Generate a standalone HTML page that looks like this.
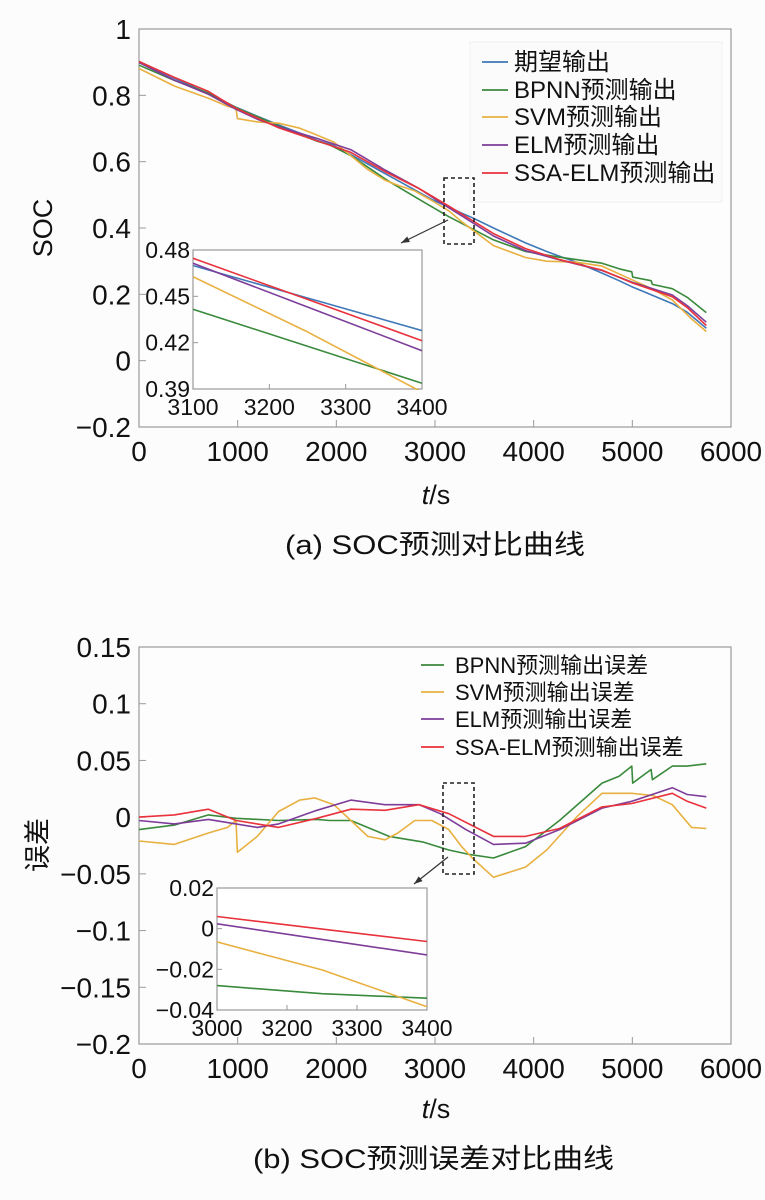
<!DOCTYPE html>
<html><head><meta charset="utf-8">
<style>
html,body{margin:0;padding:0;background:#fcfcfc;}
svg{display:block;font-family:"Liberation Sans","Noto Sans CJK SC",sans-serif;}
</style></head>
<body>
<svg id="root" width="765" height="1200" viewBox="0 0 765 1200">
<rect width="765" height="1200" fill="#fcfcfc"/>
<g id="chartA"></g>
<g id="chartB"></g>
<text x="0" y="0" font-size="27" text-anchor="middle" fill="#111" transform="translate(52,228) rotate(-90)">SOC</text>
<text x="436" y="504" font-size="27" text-anchor="middle" fill="#111"><tspan font-style="italic">t</tspan>/s</text>
<text x="285" y="554" font-size="27" fill="#111" textLength="300" lengthAdjust="spacingAndGlyphs">(a) SOC预测对比曲线</text>
<text x="0" y="0" font-size="27" text-anchor="middle" fill="#111" transform="translate(47,845) rotate(-90)">误差</text>
<text x="436" y="1118" font-size="27" text-anchor="middle" fill="#111"><tspan font-style="italic">t</tspan>/s</text>
<text x="253" y="1168" font-size="27" fill="#111" textLength="361" lengthAdjust="spacingAndGlyphs">(b) SOC预测误差对比曲线</text>
</svg>
<script>
// ---------- Chart (a) data ----------
const xTicksMain = [0,1000,2000,3000,4000,5000,6000];
const yTicksA = [1,0.8,0.6,0.4,0.2,0,-0.2];
const yTickLabelsA = ["1","0.8","0.6","0.4","0.2","0","\u22120.2"];
const expT = [0,358,703,983,1199,1415,1630,1803,1975,2148,2320,2493,2623,2795,2968,3140,3270,3378,3593,3917,4132,4262,4434,4693,4866,4995,5190,5405,5556,5600,5750];
const expV = [.902,.852,.805,.764,.737,.711,.686,.664,.648,.621,.593,.564,.543,.515,.486,.463,.445,.431,.400,.355,.329,.315,.297,.264,.241,.223,.199,.172,.146,.135,.098];
const bpT = [0,358,703,983,1415,1803,1932,2148,2536,2881,3140,3356,3593,3917,4262,4693,4866,4995,5004,5190,5203,5405,5556,5750];
const bpV = [.891,.845,.807,.763,.708,.662,.651,.618,.540,.479,.434,.401,.364,.329,.312,.294,.277,.268,.252,.241,.230,.217,.191,.145];
const svT = [0,358,703,897,983,997,1199,1415,1630,1781,1975,2148,2320,2493,2623,2795,2968,3140,3270,3378,3593,3917,4132,4434,4693,4995,5211,5405,5600,5750];
const svV = [.881,.828,.791,.767,.761,.730,.720,.716,.701,.683,.659,.618,.576,.544,.529,.512,.483,.452,.419,.395,.347,.311,.300,.297,.285,.244,.215,.183,.126,.088];
const elT = [0,358,703,983,1199,1415,1803,2148,2493,2838,3054,3313,3593,3917,4262,4693,4995,5405,5556,5750];
const elV = [.899,.846,.803,.758,.728,.705,.670,.636,.575,.519,.477,.429,.376,.332,.304,.272,.237,.198,.166,.116];
const ssT = [0,358,703,983,1415,1803,2148,2493,2838,3140,3593,3917,4262,4693,4995,5405,5556,5750];
const ssV = [.902,.854,.812,.761,.702,.663,.628,.570,.519,.466,.383,.338,.305,.273,.235,.193,.160,.106];
// inset (a)
const insAxT = [3100,3200,3300,3400];
const insAyT = [0.48,0.45,0.42,0.39];
const insAyLabels = ["0.48","0.45","0.42","0.39"];
const insAT = [3100,3250,3400];
const insAexp = [.4699,.4489,.4278];
const insAbp = [.4416,.4177,.3937];
const insAsv = [.4627,.427,.388];
const insAel = [.4714,.4431,.4148];
const insAss = [.4746,.4480,.4213];
const legendA = ["期望输出","BPNN预测输出","SVM预测输出","ELM预测输出","SSA-ELM预测输出"];

// ---------- Chart (b) data ----------
const yTicksB = [0.15,0.1,0.05,0,-0.05,-0.1,-0.15,-0.2];
const yTickLabelsB = ["0.15","0.1","0.05","0","\u22120.05","\u22120.1","\u22120.15","\u22120.2"];
const ebpT = [0,358,703,983,1415,1803,1932,2148,2536,2881,3140,3356,3593,3917,4262,4693,4866,4995,5004,5190,5203,5405,5556,5750];
const ebpV = [-.011,-.007,.002,-.001,-.003,-.002,-.003,-.003,-.017,-.022,-.029,-.033,-.036,-.026,-.003,.030,.036,.045,.030,.042,.033,.045,.045,.047];
const esvT = [0,358,703,897,983,997,1199,1415,1630,1781,1975,2148,2320,2493,2623,2795,2968,3140,3270,3378,3593,3917,4132,4434,4693,4995,5211,5405,5600,5750];
const esvV = [-.021,-.024,-.014,-.009,-.003,-.031,-.017,.005,.015,.017,.011,-.003,-.017,-.020,-.014,-.003,-.003,-.011,-.026,-.036,-.053,-.044,-.029,0,.021,.021,.019,.011,-.009,-.010];
const eelT = [0,358,703,983,1199,1415,1803,2148,2493,2838,3054,3313,3593,3917,4262,4693,4995,5405,5556,5750];
const eelV = [-.003,-.006,-.002,-.006,-.009,-.006,.006,.015,.011,.011,.003,-.011,-.024,-.023,-.011,.008,.014,.026,.020,.018];
const essT = [0,358,703,983,1415,1803,2148,2493,2838,3140,3593,3917,4262,4693,4995,5405,5556,5750];
const essV = [0,.002,.007,-.003,-.009,-.001,.007,.006,.011,.003,-.017,-.017,-.010,.009,.012,.021,.014,.008];
// inset (b)
const insBxT = [3100,3200,3300,3400];
const insBxLabels = ["3000","3200","3300","3400"];
const insByT = [0.02,0,-0.02,-0.04];
const insByLabels = ["0.02","0","\u22120.02","\u22120.04"];
const insBT = [3100,3250,3400];
const insBbp = [-.028,-.032,-.0342];
const insBsv = [-.0065,-.0203,-.0384];
const insBel = [.0024,-.0053,-.0129];
const insBss = [.006,-.0002,-.0063];
const legendB = ["BPNN预测输出误差","SVM预测输出误差","ELM预测输出误差","SSA-ELM预测输出误差"];

const COL = {exp:"#3f78b8", bp:"#3a8a3c", sv:"#e8b040", el:"#7d3d99", ss:"#e8323c"};
const NS = "http://www.w3.org/2000/svg";

function mk(parent, tag, attrs, text){
  const e = document.createElementNS(NS, tag);
  for (const k in attrs) e.setAttribute(k, attrs[k]);
  if (text !== undefined) e.textContent = text;
  parent.appendChild(e);
  return e;
}
function lin(d0,d1,r0,r1){ return v => r0 + (v-d0)/(d1-d0)*(r1-r0); }
function pathD(ts, vs, sx, sy){
  return ts.map((t,i)=>(i?"L":"M")+sx(t).toFixed(1)+","+sy(vs[i]).toFixed(1)).join("");
}
function series(g, ts, vs, sx, sy, color, name, clip){
  const p = mk(g,"path",{d:pathD(ts,vs,sx,sy),fill:"none",stroke:color,"stroke-width":1.6,"stroke-linejoin":"round"});
  if (clip) p.setAttribute("clip-path", clip);
  
  
  return p;
}

function drawMain(g, cfg){
  const sx = lin(0,6000,139,731);
  const sy = lin(cfg.yMin,cfg.yMax,cfg.bottom,cfg.top);
  const frame = mk(g,"rect",{x:139,y:cfg.top,width:592,height:cfg.bottom-cfg.top,fill:"#fdfdfd",stroke:"#9a9a9a","stroke-width":1.2});
  
  
  xTicksMain.forEach(t=>{
    const tk = mk(g,"line",{x1:sx(t),x2:sx(t),y1:cfg.bottom,y2:cfg.bottom-7,stroke:"#9a9a9a"});
    
    
    const lb = mk(g,"text",{x:sx(t),y:cfg.bottom+34,"font-size":28,"text-anchor":"middle",fill:"#111"},String(t));
    
    
  });
  cfg.yTicks.forEach((v,i)=>{
    const tk = mk(g,"line",{x1:139,x2:146,y1:sy(v),y2:sy(v),stroke:"#9a9a9a"});
    
    
    const lb = mk(g,"text",{x:131,y:sy(v)+10,"font-size":28,"text-anchor":"end",fill:"#111"},cfg.yLabels[i]);
    
    
  });
  return {sx, sy};
}

function drawInset(g, cfg){
  const sx = lin(cfg.xd[0],cfg.xd[1],cfg.x0,cfg.x1);
  const sy = lin(cfg.yd[0],cfg.yd[1],cfg.y1,cfg.y0);
  const fr = mk(g,"rect",{x:cfg.x0,y:cfg.y0,width:cfg.x1-cfg.x0,height:cfg.y1-cfg.y0,fill:"#fff",stroke:"#9a9a9a","stroke-width":1.2});
  
  
  const cid = cfg.id+"clip";
  const defs = mk(g,"defs",{});
  const cp = mk(defs,"clipPath",{id:cid});
  mk(cp,"rect",{x:cfg.x0,y:cfg.y0-1,width:cfg.x1-cfg.x0,height:cfg.y1-cfg.y0+2});
  cfg.xTicks.forEach((t,i)=>{
    const tk = mk(g,"line",{x1:sx(t),x2:sx(t),y1:cfg.y1,y2:cfg.y1-5,stroke:"#9a9a9a"});
    
    
    const lb = mk(g,"text",{x:sx(t),y:cfg.y1+26,"font-size":23,"text-anchor":"middle",fill:"#111"},cfg.xLabels[i]);
    
    
  });
  cfg.yTicks.forEach((v,i)=>{
    const tk = mk(g,"line",{x1:cfg.x0,x2:cfg.x0+5,y1:sy(v),y2:sy(v),stroke:"#9a9a9a"});
    
    
    const lb = mk(g,"text",{x:cfg.x0-3,y:sy(v)+8,"font-size":23,"text-anchor":"end",fill:"#111"},cfg.yLabels[i]);
    
    
  });
  return {sx, sy, clip:"url(#"+cid+")"};
}

function legend(g, items, colors, lx0, lx1, tx, ys, fs){
  items.forEach((s,i)=>{
    const ln = mk(g,"line",{x1:lx0,x2:lx1,y1:ys[i],y2:ys[i],stroke:colors[i],"stroke-width":1.8});
    
    
    const t = mk(g,"text",{x:tx,y:ys[i]+8,"font-size":fs,fill:"#111"},s);
    
    
  });
}

function zoomMark(g, rx, ry, rw, rh, ax0, ay0, ax1, ay1){
  const r = mk(g,"rect",{x:rx,y:ry,width:rw,height:rh,fill:"none",stroke:"#222","stroke-width":1.6,"stroke-dasharray":"4,3"});
  
  
  const l = mk(g,"line",{x1:ax0,y1:ay0,x2:ax1,y2:ay1,stroke:"#333","stroke-width":1.2});
  
  
  const ang = Math.atan2(ay1-ay0, ax1-ax0);
  const p = [[ax1,ay1],[ax1-9*Math.cos(ang-0.35),ay1-9*Math.sin(ang-0.35)],[ax1-9*Math.cos(ang+0.35),ay1-9*Math.sin(ang+0.35)]];
  const h = mk(g,"polygon",{points:p.map(q=>q.join(",")).join(" "),fill:"#333"});
  
  
}

// ---------- draw (a) ----------
const gA = document.getElementById("chartA");
const A = drawMain(gA,{top:29,bottom:427,yMin:-0.2,yMax:1,yTicks:yTicksA,yLabels:yTickLabelsA});
const lgBoxA = mk(gA,"rect",{x:470,y:42,width:252,height:160,fill:"#fbfbfb",stroke:"#f0f0f0"});


series(gA, expT, expV, A.sx, A.sy, COL.exp, "line-expected");
series(gA, bpT, bpV, A.sx, A.sy, COL.bp, "line-bpnn");
series(gA, svT, svV, A.sx, A.sy, COL.sv, "line-svm");
series(gA, elT, elV, A.sx, A.sy, COL.el, "line-elm");
series(gA, ssT, ssV, A.sx, A.sy, COL.ss, "line-ssa-elm");
legend(gA, legendA, [COL.exp,COL.bp,COL.sv,COL.el,COL.ss], 482, 508, 514, [62,90,117,145,173], 24);
zoomMark(gA, 444, 178, 30, 66, 448, 220, 401, 243);
const IA = drawInset(gA,{id:"ia",x0:193,x1:422,y0:250,y1:389,xd:[3100,3400],yd:[0.39,0.48],xTicks:insAxT,xLabels:insAxT.map(String),yTicks:insAyT,yLabels:insAyLabels});
series(gA, insAT, insAexp, IA.sx, IA.sy, COL.exp, "inset-line-expected", IA.clip);
series(gA, insAT, insAbp, IA.sx, IA.sy, COL.bp, "inset-line-bpnn", IA.clip);
series(gA, insAT, insAsv, IA.sx, IA.sy, COL.sv, "inset-line-svm", IA.clip);
series(gA, insAT, insAel, IA.sx, IA.sy, COL.el, "inset-line-elm", IA.clip);
series(gA, insAT, insAss, IA.sx, IA.sy, COL.ss, "inset-line-ssa-elm", IA.clip);

// ---------- draw (b) ----------
const gB = document.getElementById("chartB");
const B = drawMain(gB,{top:647,bottom:1044,yMin:-0.2,yMax:0.15,yTicks:yTicksB,yLabels:yTickLabelsB});
series(gB, ebpT, ebpV, B.sx, B.sy, COL.bp, "error-line-bpnn");
series(gB, esvT, esvV, B.sx, B.sy, COL.sv, "error-line-svm");
series(gB, eelT, eelV, B.sx, B.sy, COL.el, "error-line-elm");
series(gB, essT, essV, B.sx, B.sy, COL.ss, "error-line-ssa-elm");
legend(gB, legendB, [COL.bp,COL.sv,COL.el,COL.ss], 421, 444, 455, [665,692,719,747], 22);
zoomMark(gB, 443, 783, 31, 91, 448, 857, 414, 884);
const IB = drawInset(gB,{id:"ib",x0:217,x1:427,y0:888,y1:1010,xd:[3100,3400],yd:[-0.04,0.02],xTicks:insBxT,xLabels:insBxLabels,yTicks:insByT,yLabels:insByLabels});
series(gB, insBT, insBbp, IB.sx, IB.sy, COL.bp, "inset-error-line-bpnn", IB.clip);
series(gB, insBT, insBsv, IB.sx, IB.sy, COL.sv, "inset-error-line-svm", IB.clip);
series(gB, insBT, insBel, IB.sx, IB.sy, COL.el, "inset-error-line-elm", IB.clip);
series(gB, insBT, insBss, IB.sx, IB.sy, COL.ss, "inset-error-line-ssa-elm", IB.clip);
</script>
</body></html>
